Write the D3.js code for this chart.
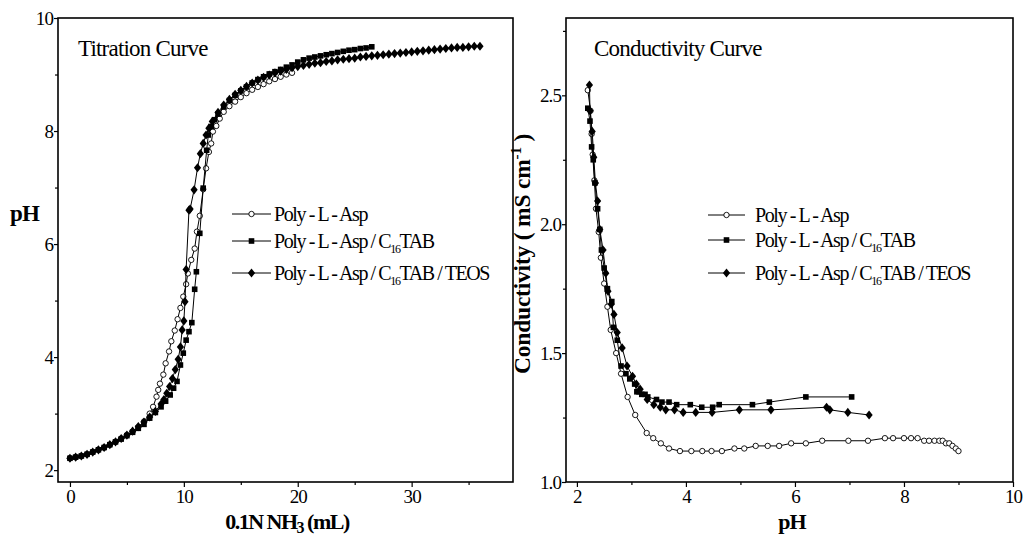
<!DOCTYPE html>
<meta charset="utf-8">
<body style="margin:0;background:#fff">
<div id="chart"></div>
<script src="https://d3js.org/d3.v7.min.js"></script>
<script>
// ——— titration data: [mL of 0.1N NH3, pH] ———
const titAsp = [
  [0,2.21],[0.5,2.23],[1,2.25],[1.5,2.28],[2,2.32],[2.5,2.36],[3,2.40],[3.5,2.45],[4,2.50],[4.5,2.56],
  [5,2.62],[5.5,2.68],[6,2.76],[6.5,2.86],[7,3.0],[7.3,3.12],[7.6,3.3],[7.75,3.42],[7.9,3.53],[8.2,3.69],
  [8.4,3.89],[8.7,4.1],[8.9,4.28],[9.2,4.47],[9.45,4.67],[9.7,4.87],[9.95,5.07],[10.2,5.29],[10.35,5.48],
  [10.65,5.72],[10.95,5.92],[11.15,6.22],[11.4,6.5],[11.7,6.97],[11.95,7.34],[12.2,7.63],[12.4,7.78],
  [12.55,7.99],[12.85,8.09],[13.15,8.22],[13.5,8.34],[14,8.44],[14.5,8.52],[15,8.6],[15.5,8.67],[16,8.73],
  [16.5,8.78],[17,8.83],[17.5,8.88],[18,8.92],[18.5,8.96],[19,9.0],[19.5,9.03]
];
const titTab = [
  [0,2.21],[0.5,2.23],[1,2.25],[1.5,2.28],[2,2.32],[2.5,2.36],[3,2.40],[3.5,2.45],[4,2.50],[4.5,2.55],
  [5,2.61],[5.5,2.67],[6,2.74],[6.5,2.81],[7,2.92],[7.5,3.02],[8,3.12],[8.4,3.22],[8.8,3.33],[9.1,3.45],
  [9.4,3.57],[9.7,3.86],[9.95,4.07],[10.2,4.3],[10.45,4.45],[10.7,4.61],[10.95,5.2],[11.1,5.51],[11.4,6.19],
  [11.7,6.99],[12.0,7.66],[12.15,7.93],[12.4,8.08],[12.7,8.2],[13,8.3],[13.5,8.43],[14,8.54],[14.5,8.63],
  [15,8.71],[15.5,8.78],[16,8.85],[16.5,8.91],[17,8.96],[17.5,9.01],[18,9.05],[18.5,9.09],[19,9.13],
  [19.5,9.17],[20,9.22],[20.5,9.26],[21,9.29],[21.5,9.31],[22,9.33],[22.5,9.35],[23,9.37],[23.5,9.39],
  [24,9.41],[24.5,9.43],[25,9.44],[25.5,9.46],[26,9.47],[26.5,9.49]
];
const titTeos = [
  [0,2.21],[0.5,2.23],[1,2.25],[1.5,2.28],[2,2.32],[2.5,2.36],[3,2.40],[3.5,2.45],[4,2.50],[4.5,2.56],
  [5,2.62],[5.5,2.69],[6,2.77],[6.5,2.85],[7,2.94],[7.5,3.04],[8,3.17],[8.25,3.25],[8.5,3.36],[8.75,3.48],
  [9,3.62],[9.25,3.78],[9.5,3.96],[9.7,4.18],[9.85,4.48],[10.0,4.64],[10.1,4.98],[10.2,5.55],[10.45,6.6],
  [10.55,6.62],[10.9,6.96],[11.2,7.35],[11.45,7.6],[11.7,7.78],[11.95,7.93],[12.2,8.05],[12.5,8.17],
  [13,8.33],[13.5,8.46],[14,8.56],[14.5,8.65],[15,8.72],[15.5,8.79],[16,8.85],[16.5,8.9],[17,8.95],
  [17.5,8.99],[18,9.03],[18.5,9.06],[19,9.09],[19.5,9.12],[20,9.14],[20.5,9.16],[21,9.18],[21.5,9.2],
  [22,9.21],[22.5,9.23],[23,9.24],[23.5,9.26],[24,9.27],[24.5,9.28],[25,9.29],[25.5,9.31],[26,9.32],
  [26.5,9.33],[27,9.34],[27.5,9.35],[28,9.36],[28.5,9.37],[29,9.38],[29.5,9.39],[30,9.40],[30.5,9.41],
  [31,9.42],[31.5,9.43],[32,9.44],[32.5,9.45],[33,9.46],[33.5,9.47],[34,9.48],[34.5,9.48],[35,9.49],
  [35.5,9.5],[36,9.5]
];

// ——— conductivity data: [pH, mS/cm] ———
const condAsp = [
  [2.2,2.52],[2.25,2.44],[2.27,2.35],[2.29,2.27],[2.32,2.17],[2.35,2.06],[2.4,1.97],[2.44,1.87],[2.5,1.77],
  [2.56,1.68],[2.62,1.59],[2.72,1.5],[2.81,1.42],[2.93,1.33],[3.07,1.26],[3.28,1.19],[3.4,1.17],[3.54,1.15],
  [3.69,1.13],[3.89,1.12],[4.1,1.12],[4.3,1.12],[4.47,1.12],[4.66,1.12],[4.89,1.13],[5.07,1.13],[5.28,1.14],
  [5.5,1.14],[5.71,1.14],[5.93,1.15],[6.2,1.15],[6.5,1.16],[6.98,1.16],[7.34,1.16],[7.65,1.17],[7.8,1.17],
  [8.0,1.17],[8.13,1.17],[8.25,1.17],[8.37,1.16],[8.46,1.16],[8.56,1.16],[8.65,1.16],[8.71,1.16],
  [8.77,1.15],[8.83,1.15],[8.89,1.14],[8.95,1.13],[9.0,1.12]
];
const condTab = [
  [2.2,2.45],[2.24,2.4],[2.27,2.3],[2.3,2.25],[2.33,2.16],[2.38,2.06],[2.42,1.98],[2.45,1.9],[2.5,1.83],
  [2.56,1.75],[2.64,1.70],[2.67,1.60],[2.74,1.55],[2.81,1.45],[2.9,1.42],[2.97,1.40],[3.06,1.38],[3.1,1.35],
  [3.14,1.35],[3.19,1.34],[3.25,1.34],[3.3,1.33],[3.46,1.32],[3.56,1.31],[3.69,1.31],[3.83,1.30],[4.08,1.30],
  [4.29,1.29],[4.49,1.29],[4.61,1.30],[5.22,1.30],[5.53,1.31],[6.2,1.33],[7.04,1.33]
];
const condTeos = [
  [2.23,2.54],[2.24,2.44],[2.28,2.36],[2.31,2.26],[2.34,2.16],[2.38,2.09],[2.42,1.98],[2.48,1.90],[2.53,1.81],
  [2.57,1.74],[2.63,1.69],[2.68,1.65],[2.74,1.58],[2.83,1.52],[2.92,1.45],[3.02,1.41],[3.09,1.38],[3.16,1.36],
  [3.29,1.32],[3.41,1.30],[3.53,1.29],[3.63,1.28],[3.79,1.28],[3.95,1.27],[4.18,1.27],[4.48,1.27],[4.98,1.28],
  [5.56,1.28],[6.58,1.29],[6.64,1.28],[6.97,1.27],[7.36,1.26]
];

const seriesNames = ["Poly - L - Asp", "Poly - L - Asp / C|16|TAB", "Poly - L - Asp / C|16|TAB / TEOS"];
const markers = ["circle", "square", "diamond"];

const titXTicks = [0, 10, 20, 30], titXMinor = [5, 15, 25, 35];
const titYTicks = [2, 4, 6, 8, 10], titYMinor = [3, 5, 7, 9];
const conXTicks = [2, 4, 6, 8, 10], conXMinor = [3, 5, 7, 9];
const conYTicks = [1.0, 1.5, 2.0, 2.5], conYMinor = [1.25, 1.75, 2.25, 2.75];

const W = 1025, H = 535;
const font = "'Liberation Serif', 'Times New Roman', serif";

const svg = d3.select("#chart").append("svg")
  .attr("width", W).attr("height", H)
  .style("font-family", font);

function drawMarker(sel, type) {
  if (type === "circle") {
    sel.append("circle").attr("r", 2.7).attr("fill", "#fff").attr("stroke", "#000").attr("stroke-width", 0.9);
  } else if (type === "square") {
    sel.append("rect").attr("x", -2.8).attr("y", -2.8).attr("width", 5.6).attr("height", 5.6).attr("fill", "#000");
  } else {
    sel.append("path").attr("d", "M0,-4.6L3.6,0L0,4.6L-3.6,0Z").attr("fill", "#000");
  }
}

function legendText(t, str) {
  const parts = str.split("|");
  t.append("tspan").text(parts[0]);
  if (parts.length > 1) {
    t.append("tspan").attr("font-size", 12).attr("dy", 5).text(parts[1]);
    t.append("tspan").attr("dy", -5).text(parts[2]);
  }
}

function panel(opt) {
  const {left, right, top, bottom, xDomain, yDomain, xTicks, xMinor, yTicks, yMinor, yFmt, data, title, legend} = opt;
  const x = d3.scaleLinear().domain(xDomain).range([left, right]);
  const y = d3.scaleLinear().domain(yDomain).range([bottom, top]);
  const g = svg.append("g");

  // axes
  g.append("g").attr("transform", `translate(0,${bottom})`)
    .call(d3.axisBottom(x).tickValues(xTicks).tickSize(5).tickSizeOuter(0).tickPadding(3));
  g.append("g").attr("transform", `translate(0,${bottom})`)
    .call(d3.axisBottom(x).tickValues(xMinor).tickSize(3).tickFormat(""));
  g.append("g").attr("transform", `translate(${left},0)`)
    .call(d3.axisLeft(y).tickValues(yTicks).tickSize(4).tickSizeOuter(0).tickPadding(1).tickFormat(yFmt));
  g.append("g").attr("transform", `translate(${left},0)`)
    .call(d3.axisLeft(y).tickValues(yMinor).tickSize(3).tickFormat(""));
  g.selectAll(".domain").remove();
  g.selectAll(".tick line").attr("stroke", "#000").attr("stroke-width", 1.2);
  g.selectAll(".tick text").attr("font-family", font).attr("font-size", 19).attr("fill", "#000")
    .attr("letter-spacing", -0.9);

  // frame
  g.append("rect").attr("x", left).attr("y", top)
    .attr("width", right - left).attr("height", bottom - top)
    .attr("fill", "none").attr("stroke", "#000").attr("stroke-width", 1.6);

  const line = d3.line().x(d => x(d[0])).y(d => y(d[1]));
  data.forEach((s, i) => {
    g.append("path").datum(s).attr("d", line)
      .attr("fill", "none").attr("stroke", "#000").attr("stroke-width", 1);
    g.selectAll(null).data(s).join("g")
      .attr("transform", d => `translate(${x(d[0])},${y(d[1])})`)
      .each(function() { drawMarker(d3.select(this), markers[i]); });
  });

  g.append("text").attr("x", title.x).attr("y", title.y)
    .attr("font-size", 23).attr("letter-spacing", -0.8).text(title.text);

  seriesNames.forEach((name, i) => {
    const ly = legend.ys[i];
    g.append("line").attr("x1", legend.x).attr("x2", legend.x + legend.len)
      .attr("y1", ly).attr("y2", ly).attr("stroke", "#000").attr("stroke-width", 1);
    drawMarker(g.append("g").attr("transform", `translate(${legend.x + legend.len / 2},${ly})`), markers[i]);
    const t = g.append("text").attr("x", legend.tx).attr("y", ly + 7)
      .attr("font-size", 20).attr("letter-spacing", -1.4);
    legendText(t, name);
  });
  return {x, y};
}

panel({
  left: 58, right: 513, top: 18, bottom: 482,
  xDomain: [-1.05, 38.9], yDomain: [1.79, 10],
  xTicks: titXTicks, xMinor: titXMinor, yTicks: titYTicks, yMinor: titYMinor,
  yFmt: d3.format("d"),
  data: [titAsp, titTab, titTeos],
  title: {x: 78, y: 56, text: "Titration Curve"},
  legend: {x: 232, len: 39, tx: 274, ys: [214, 241, 273]}
});

panel({
  left: 566, right: 1013, top: 18, bottom: 482,
  xDomain: [1.8, 10], yDomain: [1.0, 2.8],
  xTicks: conXTicks, xMinor: conXMinor, yTicks: conYTicks, yMinor: conYMinor,
  yFmt: d3.format(".1f"),
  data: [condAsp, condTab, condTeos],
  title: {x: 594, y: 56, text: "Conductivity Curve"},
  legend: {x: 708, len: 37, tx: 755, ys: [215, 240, 273]}
});

// axis titles
svg.append("text").attr("x", 10).attr("y", 221).attr("font-size", 23).attr("font-weight", "bold")
  .attr("letter-spacing", -0.8).text("pH");

const xt = svg.append("text").attr("x", 287).attr("y", 529).attr("text-anchor", "middle")
  .attr("font-size", 22).attr("font-weight", "bold").attr("letter-spacing", -1.5);
xt.append("tspan").text("0.1N NH");
xt.append("tspan").attr("font-size", 16).attr("dy", 4).text("3");
xt.append("tspan").attr("dy", -4).text(" (mL)");

svg.append("text").attr("x", 792).attr("y", 529).attr("text-anchor", "middle")
  .attr("font-size", 22).attr("font-weight", "bold").attr("letter-spacing", -0.8).text("pH");

const yt = svg.append("text").attr("transform", "translate(530,254) rotate(-90)")
  .attr("text-anchor", "middle").attr("font-size", 23.5).attr("font-weight", "bold").attr("letter-spacing", -0.2);
yt.append("tspan").text("Conductivity ( mS cm");
yt.append("tspan").attr("font-size", 15).attr("dy", -9).text("-1");
yt.append("tspan").attr("dy", 9).text(" )");
</script>
</body>
